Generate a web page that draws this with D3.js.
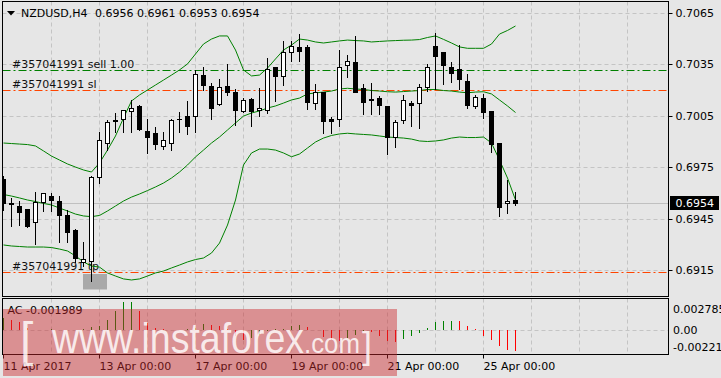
<!DOCTYPE html>
<html>
<head>
<meta charset="utf-8">
<script src="https://cdn.jsdelivr.net/npm/d3@7"></script>
<style>
  html, body { margin: 0; padding: 0; background: #e6e6e6; }
  svg { display: block; font-family: "DejaVu Sans", sans-serif; font-size: 11px; }
</style>
</head>
<body>
<div id="chart"></div>
<script>
// NZDUSD H4 bars, 11 Apr 2017 00:00 onwards
const opens = [0.69684,0.69539,0.69527,0.69504,0.69428,0.69550,0.69585,0.69556,0.69469,0.69387,
  0.69195,0.69201,0.69696,0.69894,0.70022,0.70034,0.70075,0.70104,0.69964,0.69947,
  0.69871,0.69894,0.70034,0.70046,0.70051,0.70285,0.70226,0.70116,0.70226,0.70186,
  0.70075,0.70145,0.70081,0.70086,0.70337,0.70279,0.70419,0.70448,0.70448,0.70127,
  0.70191,0.70034,0.70034,0.70343,0.70366,0.70209,0.70145,0.70156,0.70104,0.69929,
  0.70028,0.70127,0.70127,0.70220,0.70459,0.70419,0.70337,0.70320,0.70255,0.70104,
  0.70156,0.70075,0.69894,0.69539,0.69560];
const highs = [0.69702,0.69574,0.69556,0.69509,0.69609,0.69597,0.69603,0.69585,0.69504,0.69393,
  0.69317,0.69702,0.69958,0.70028,0.70069,0.70086,0.70145,0.70116,0.70034,0.69987,
  0.69958,0.70034,0.70075,0.70139,0.70320,0.70337,0.70244,0.70267,0.70355,0.70209,
  0.70156,0.70156,0.70215,0.70390,0.70337,0.70489,0.70489,0.70529,0.70465,0.70238,
  0.70191,0.70046,0.70436,0.70407,0.70518,0.70238,0.70244,0.70168,0.70104,0.70028,
  0.70174,0.70139,0.70238,0.70355,0.70535,0.70419,0.70366,0.70465,0.70296,0.70174,
  0.70180,0.70075,0.69894,0.69679,0.69610];
const lows = [0.69504,0.69410,0.69416,0.69405,0.69305,0.69498,0.69498,0.69317,0.69317,0.69201,
  0.69177,0.69090,0.69661,0.69853,0.69958,0.69958,0.69958,0.69970,0.69836,0.69859,
  0.69859,0.69853,0.69958,0.69947,0.69958,0.70203,0.70034,0.70116,0.70174,0.69999,
  0.70075,0.69993,0.70051,0.70069,0.70139,0.70232,0.70372,0.70372,0.70092,0.70092,
  0.69952,0.69952,0.69993,0.70279,0.70191,0.70063,0.70063,0.70063,0.69830,0.69871,
  0.70011,0.69993,0.69982,0.70197,0.70209,0.70238,0.70250,0.70209,0.70098,0.70098,
  0.70040,0.69842,0.69469,0.69486,0.69530];
const closes = [0.69539,0.69536,0.69492,0.69410,0.69550,0.69597,0.69562,0.69469,0.69370,0.69224,
  0.69218,0.69696,0.69906,0.70016,0.70028,0.70081,0.70098,0.69970,0.69929,0.69888,
  0.69906,0.70028,0.70031,0.69993,0.70296,0.70232,0.70098,0.70215,0.70191,0.70081,
  0.70139,0.70075,0.70098,0.70325,0.70279,0.70424,0.70459,0.70430,0.70133,0.70186,
  0.70022,0.70022,0.70337,0.70372,0.70191,0.70133,0.70143,0.70110,0.69929,0.70016,
  0.70139,0.70110,0.70215,0.70337,0.70401,0.70343,0.70302,0.70267,0.70110,0.70162,
  0.70069,0.69888,0.69521,0.69556,0.69540];

// Bollinger bands
const bbUpper = [0.69894,0.69891,0.69888,0.69885,0.69877,0.69848,0.69818,0.69795,0.69772,0.69754,
  0.69737,0.69725,0.69778,0.69853,0.69935,0.70040,0.70139,0.70174,0.70203,0.70232,
  0.70261,0.70290,0.70320,0.70355,0.70413,0.70471,0.70500,0.70518,0.70518,0.70436,
  0.70320,0.70285,0.70290,0.70331,0.70384,0.70436,0.70465,0.70500,0.70494,0.70483,
  0.70477,0.70483,0.70489,0.70494,0.70491,0.70489,0.70483,0.70486,0.70489,0.70491,
  0.70493,0.70494,0.70497,0.70509,0.70518,0.70498,0.70477,0.70454,0.70446,0.70446,
  0.70446,0.70471,0.70529,0.70550,0.70576];
const bbMiddle = [0.69594,0.69585,0.69574,0.69562,0.69553,0.69542,0.69533,0.69515,0.69498,0.69480,
  0.69469,0.69465,0.69472,0.69498,0.69527,0.69556,0.69579,0.69597,0.69617,0.69638,
  0.69661,0.69690,0.69725,0.69766,0.69813,0.69853,0.69894,0.69929,0.69970,0.70011,
  0.70051,0.70069,0.70081,0.70098,0.70110,0.70127,0.70145,0.70156,0.70180,0.70186,
  0.70191,0.70197,0.70209,0.70213,0.70209,0.70206,0.70200,0.70197,0.70193,0.70191,
  0.70194,0.70197,0.70200,0.70206,0.70206,0.70200,0.70197,0.70191,0.70187,0.70191,
  0.70193,0.70180,0.70145,0.70110,0.70072];
const bbLower = [0.69300,0.69294,0.69291,0.69288,0.69288,0.69288,0.69285,0.69276,0.69265,0.69236,
  0.69201,0.69177,0.69171,0.69137,0.69119,0.69102,0.69096,0.69102,0.69119,0.69137,
  0.69148,0.69166,0.69183,0.69201,0.69215,0.69224,0.69253,0.69311,0.69416,0.69562,
  0.69766,0.69836,0.69859,0.69859,0.69853,0.69836,0.69814,0.69830,0.69865,0.69900,
  0.69923,0.69938,0.69947,0.69951,0.69947,0.69944,0.69941,0.69935,0.69929,0.69926,
  0.69923,0.69917,0.69906,0.69903,0.69906,0.69912,0.69923,0.69929,0.69926,0.69926,
  0.69929,0.69894,0.69795,0.69690,0.69562];

// Accelerator oscillator
const acValues = [0.00122,0.00098,0.00078,0.00020,0.00008,0.00004,0.00010,0.00006,0.00003,0.00001,
  0.00018,0.00030,0.00045,0.00100,0.00190,0.00275,0.002785,0.00194,0.00074,0.00025,
  0.00010,0.00003,0.00008,0.00012,0.00020,0.00060,0.00056,0.00043,0.00010,-0.00055,
  -0.00090,-0.00072,-0.00040,-0.00008,0.00010,0.00015,0.00045,0.00055,0.00030,0.00002,
  -0.00060,-0.00090,-0.00108,-0.00075,-0.00042,-0.00010,-0.00015,-0.00055,-0.00100,-0.00110,
  -0.00085,-0.00055,-0.00030,0.00022,0.00080,0.00095,0.00097,0.00088,0.00040,0.00013,
  -0.00052,-0.00092,-0.00150,-0.00188,-0.001989];

const priceTicks = [0.7065, 0.7035, 0.7005, 0.6975, 0.6945, 0.6915];
const acTicks = [0.002785, 0, -0.00221];
const timeLabels = ["11 Apr 2017", "13 Apr 00:00", "17 Apr 00:00", "19 Apr 00:00", "21 Apr 00:00", "25 Apr 00:00"];
const timeLabelBars = [0, 12, 24, 36, 48, 60];

const sellPrice = 0.70315, slPrice = 0.70199, tpPrice = 0.69138;
const orderId = "#357041991";
const bid = 0.6954;

const W = 721, H = 378;
const main = {left: 2.5, right: 668.5, top: 1.5, bottom: 296.5};
const sub = {top: 298.5, bottom: 354.5};

const crisp = v => Math.round(v - 0.5) + 0.5;

const x = d3.scaleLinear().domain([0, 64]).range([3.5, 515.5]);
const y = d3.scaleLinear().domain([0.6915, 0.7065]).range([270.7, 13.3]);
const yAc = d3.scaleLinear().domain([-0.00221, 0.002785]).range([353, 302]);

const svg = d3.select("#chart").append("svg")
    .attr("width", W).attr("height", H);

svg.append("rect").attr("width", W).attr("height", H).attr("fill", "#e6e6e6");

const defs = svg.append("defs");
defs.append("clipPath").attr("id", "clipMain").append("rect")
    .attr("x", 3).attr("y", 2).attr("width", main.right - 3).attr("height", main.bottom - 2);
defs.append("clipPath").attr("id", "clipSub").append("rect")
    .attr("x", 3).attr("y", sub.top + 0.5).attr("width", main.right - 3).attr("height", sub.bottom - sub.top - 1);

// grid
const gridCols = d3.range(6, 79, 6);
const grid = svg.append("g").attr("stroke", "#c4c4c4").attr("stroke-dasharray", "4,3");
grid.selectAll(".vg").data(gridCols).enter().append("line")
    .attr("x1", d => crisp(x(d))).attr("x2", d => crisp(x(d)))
    .attr("y1", main.top).attr("y2", main.bottom);
grid.selectAll(".vs").data(gridCols).enter().append("line")
    .attr("x1", d => crisp(x(d))).attr("x2", d => crisp(x(d)))
    .attr("y1", sub.top).attr("y2", sub.bottom);
grid.selectAll(".hg").data(priceTicks).enter().append("line")
    .attr("x1", main.left).attr("x2", main.right)
    .attr("y1", d => crisp(y(d))).attr("y2", d => crisp(y(d)));
grid.append("line")
    .attr("x1", main.left).attr("x2", main.right)
    .attr("y1", crisp(yAc(0))).attr("y2", crisp(yAc(0)));

// bid line
svg.append("line")
    .attr("x1", main.left).attr("x2", main.right)
    .attr("y1", crisp(y(bid))).attr("y2", crisp(y(bid)))
    .attr("stroke", "#c0c0c0");

const plot = svg.append("g").attr("clip-path", "url(#clipMain)");

// grey tooltip box by the tp label
plot.append("rect")
    .attr("x", 83).attr("y", 274).attr("width", 24).attr("height", 15.5)
    .attr("fill", "#a9a9a9");

// order lines
function orderLine(price, color, label) {
  const ly = crisp(y(price));
  plot.append("line")
      .attr("x1", main.left).attr("x2", main.right)
      .attr("y1", ly).attr("y2", ly)
      .attr("stroke", color).attr("stroke-dasharray", "8,3,2,3");
  plot.append("text")
      .attr("x", 12).attr("y", ly - 2.5)
      .attr("fill", "#111")
      .text(label);
}
orderLine(sellPrice, "#008000", orderId + " sell 1.00");
orderLine(slPrice, "#ff4500", orderId + " sl");
orderLine(tpPrice, "#ff4500", orderId + " tp");

// bollinger bands
const bandLine = d3.line().x((d, i) => x(i)).y(d => y(d));
[bbUpper, bbMiddle, bbLower].forEach(band => {
  plot.append("path")
      .attr("d", bandLine(band))
      .attr("fill", "none").attr("stroke", "#008000").attr("stroke-width", 1);
});

// candles
const bars = d3.range(opens.length);
const candles = plot.append("g");
bars.forEach(i => {
  const cx = crisp(x(i));
  candles.append("line")
      .attr("x1", cx).attr("x2", cx)
      .attr("y1", Math.round(y(highs[i]))).attr("y2", Math.round(y(lows[i])) + 1)
      .attr("stroke", "#000");
  const top = crisp(y(Math.max(opens[i], closes[i])));
  const bot = crisp(y(Math.min(opens[i], closes[i])));
  if (bot - top < 1) {
    candles.append("line")
        .attr("x1", cx - 2.5).attr("x2", cx + 2.5)
        .attr("y1", top).attr("y2", top)
        .attr("stroke", "#000");
  } else {
    candles.append("rect")
        .attr("x", cx - 2).attr("y", top)
        .attr("width", 4).attr("height", bot - top)
        .attr("fill", closes[i] >= opens[i] ? "#fff" : "#000")
        .attr("stroke", "#000");
  }
});

// indicator bars
const acG = svg.append("g").attr("clip-path", "url(#clipSub)");
acG.selectAll("line").data(acValues).enter().append("line")
    .attr("x1", (d, i) => crisp(x(i))).attr("x2", (d, i) => crisp(x(i)))
    .attr("y1", Math.round(yAc(0)))
    .attr("y2", d => Math.round(yAc(d)))
    .attr("stroke", (d, i) => (i === 0 || d > acValues[i - 1]) ? "#008000" : "#ff0000");

svg.append("text")
    .attr("x", 7.5).attr("y", 314)
    .attr("fill", "#000")
    .text("AC " + acValues[acValues.length - 1].toFixed(6));

// frames
svg.append("rect")
    .attr("x", main.left).attr("y", main.top)
    .attr("width", main.right - main.left).attr("height", main.bottom - main.top)
    .attr("fill", "none").attr("stroke", "#000");
svg.append("rect")
    .attr("x", main.left).attr("y", sub.top)
    .attr("width", main.right - main.left).attr("height", sub.bottom - sub.top)
    .attr("fill", "none").attr("stroke", "#000");

// price axis
const yAxis = svg.append("g")
    .attr("transform", "translate(" + main.right + ",0)")
    .call(d3.axisRight(y).tickValues(priceTicks).tickSize(4).tickPadding(3)
        .tickFormat(d3.format(".4f")));
yAxis.select(".domain").remove();
yAxis.selectAll(".tick").attr("transform", d => "translate(0," + crisp(y(d)) + ")");
yAxis.selectAll("text")
    .attr("font-family", "DejaVu Sans").attr("font-size", 11).attr("fill", "#000");
yAxis.selectAll("line").attr("stroke", "#000");

// bid label
const by = crisp(y(bid));
svg.append("rect")
    .attr("x", 670).attr("y", by - 7.5).attr("width", 49).attr("height", 14)
    .attr("fill", "#000");
svg.append("text")
    .attr("x", 675.5).attr("y", by).attr("dy", "0.34em")
    .attr("fill", "#fff")
    .text(d3.format(".4f")(bid));

// indicator scale labels
const acLabelShift = [10.5, 4, -2];
svg.selectAll(".acl").data(acTicks).enter().append("text")
    .attr("x", 673)
    .attr("y", (d, k) => yAc(d) + acLabelShift[k])
    .attr("fill", "#000")
    .text(d => d === 0 ? "0.00" : String(d));

// time axis
const xAxis = svg.append("g")
    .attr("transform", "translate(0," + sub.bottom + ")")
    .call(d3.axisBottom(x).tickValues(timeLabelBars).tickSize(4).tickPadding(4)
        .tickFormat((d, k) => timeLabels[k]));
xAxis.select(".domain").remove();
xAxis.selectAll(".tick").attr("transform", d => "translate(" + crisp(x(d)) + ",0)");
xAxis.selectAll("line").attr("stroke", "#000");
xAxis.selectAll("text")
    .attr("text-anchor", "start").attr("x", 0)
    .attr("font-family", "DejaVu Sans").attr("font-size", 11).attr("fill", "#000");

// title
svg.append("path").attr("d", "M7,11 L15,11 L11,15.5 Z").attr("fill", "#000");
svg.append("text").attr("x", 21).attr("y", 17.3).attr("fill", "#000").text("NZDUSD,H4");
svg.append("text").attr("x", 95).attr("y", 17.3).attr("fill", "#000")
    .text([opens[64], highs[64], lows[64], closes[64]].map(d3.format(".4f")).join(" "));

// watermark
const wm = svg.append("g");
wm.append("rect")
    .attr("x", 3).attr("y", 309).attr("width", 394).attr("height", 67)
    .attr("fill", "rgba(205,40,45,0.45)");
const wmFont = "'Liberation Sans Narrow', 'Liberation Sans', sans-serif";
wm.append("text").attr("x", 20).attr("y", 356)
    .attr("font-family", wmFont).attr("font-size", 48).attr("font-weight", 300)
    .attr("fill", "rgba(255,255,255,0.82)").text("[");
wm.append("text").attr("x", 52).attr("y", 353)
    .attr("font-family", wmFont).attr("font-size", 42)
    .attr("textLength", 252).attr("lengthAdjust", "spacingAndGlyphs")
    .attr("fill", "rgba(255,255,255,0.82)").text("www.instaforex");
wm.append("text").attr("x", 304).attr("y", 353)
    .attr("font-family", wmFont).attr("font-size", 28)
    .attr("textLength", 56).attr("lengthAdjust", "spacingAndGlyphs")
    .attr("fill", "rgba(255,255,255,0.82)").text(".com");
wm.append("text").attr("x", 362).attr("y", 358)
    .attr("font-family", wmFont).attr("font-size", 36)
    .attr("fill", "rgba(255,255,255,0.82)").text("]");
</script>
</body>
</html>
